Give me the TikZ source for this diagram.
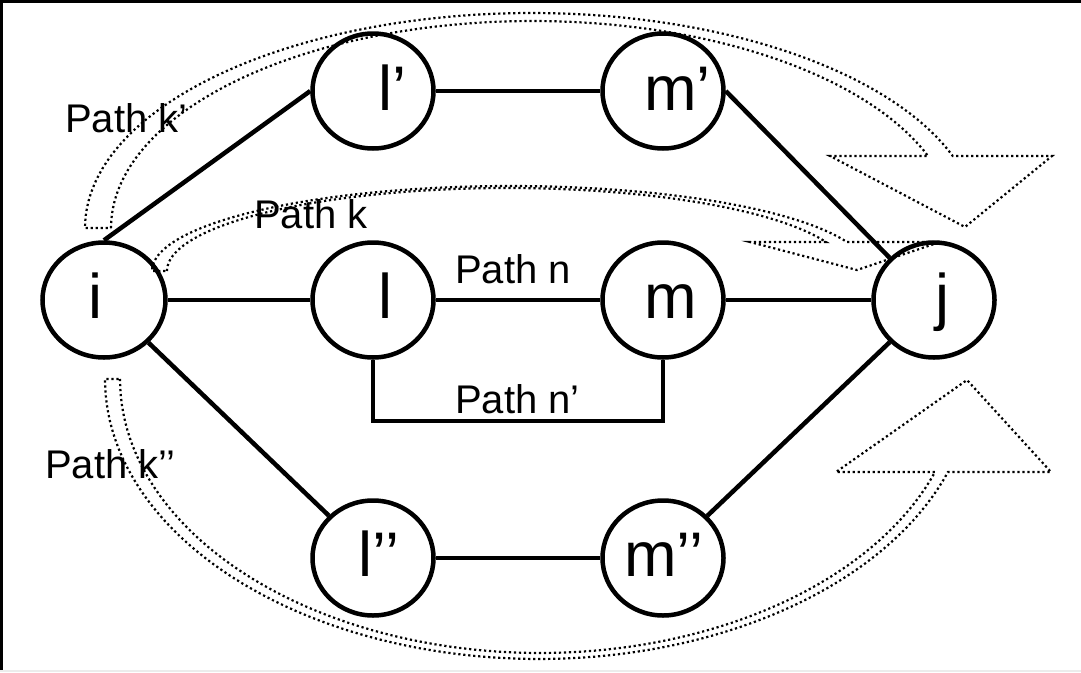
\documentclass[tikz,border=0pt]{standalone}
\usepackage{fontspec}
\setmainfont{Liberation Sans}
\usetikzlibrary{shapes.geometric}
\begin{document}
\begin{tikzpicture}[x=1pt,y=-1pt,
  ell/.style={draw, line width=4.5pt, ellipse, minimum width=121pt, minimum height=115pt, inner sep=0pt},
  edge/.style={line width=4.5pt},
  big/.style={font=\fontsize{63}{70}\selectfont, inner sep=0pt, anchor=base west},
  small/.style={font=\fontsize{40}{46}\selectfont, inner sep=0pt, anchor=base west},
  dotline/.style={line width=2.2pt, dash pattern=on 2.2pt off 2.8pt}]
\useasboundingbox (0,0) rectangle (1081,672);
% frame
\draw[line width=3pt] (0,1.5) -- (1081,1.5);
\draw[line width=3pt] (1.5,0) -- (1.5,672);
\fill[gray!15] (0,669.5) rectangle (1081,672);
% nodes
\node[ell, minimum width=123pt] (i) at (104,300) {};
\node[ell] (lp) at (373,91) {};
\node[ell] (mp) at (663,91) {};
\node[ell] (l) at (373,300) {};
\node[ell] (m) at (663,300) {};
\node[ell] (j) at (934,300) {};
\node[ell] (lpp) at (373,558) {};
\node[ell] (mpp) at (663,558) {};
% node texts
\node[big] (ti) at (88,318) {i};
\node[big] (tlp) at (378,110) {l’};
\node[big] (tl) at (378,318) {l};
\node[big] (tmp) at (644,110) {m’};
\node[big] (tm) at (644,318) {m};
\node[big] (tj) at (935,318) {j};
\node[big] (tlpp) at (358,576) {l’’};
\node[big] (tmpp) at (624,576) {m’’};
% edges
\draw[edge] (i.north) -- (lp.west);
\draw[edge] (i.east) -- (l.west);
\draw[edge] (i) -- (lpp);
\draw[edge] (lp) -- (mp);
\draw[edge] (l) -- (m);
\draw[edge] (lpp) -- (mpp);
\draw[edge] (mp.east) -- (j.north west);
\draw[edge] (m) -- (j);
\draw[edge] (mpp) -- (j);
\coordinate (nb) at (0,421);
\draw[edge] (l.south) |- (m.south |- nb) -- (m.south);
% path labels
\node[small] (pkp) at (65,132) {Path k’};
\node[small] (pk) at (254,228) {Path k};
\node[small] (pn) at (455,283) {Path n};
\node[small] (pnp) at (455,413) {Path n’};
\node[small] (pkpp) at (45,478) {Path k’’};
% dotted curved block arrows
\draw[dotline] plot[domain=180:20.35, samples=90] ({532.7+421.7*cos(\x)}, {228-207*sin(\x)})
  -- (830,156) -- (965,227) -- (1052,156) -- (953,156)
  -- plot[domain=19.57:180, samples=90] ({531.8+446.8*cos(\x)}, {228-215*sin(\x)}) -- cycle;
\draw[dotline] plot[domain=180:20.45, samples=90] ({507.2+340.2*cos(\x)}, {271-83*sin(\x)})
  -- (750,242) -- (857,270) -- (940,242) -- (847,242)
  -- plot[domain=19.95:180, samples=90] ({510.2+358.2*cos(\x)}, {271-85*sin(\x)}) -- cycle;
\draw[dotline] plot[domain=180:19.84, samples=90] ({540.0+420.0*cos(\x)}, {379+274*sin(\x)})
  -- (836,472) -- (967,380) -- (1051,472) -- (948,472)
  -- plot[domain=19.40:180, samples=90] ({538.8+433.8*cos(\x)}, {379+280*sin(\x)}) -- cycle;
\end{tikzpicture}
\end{document}
